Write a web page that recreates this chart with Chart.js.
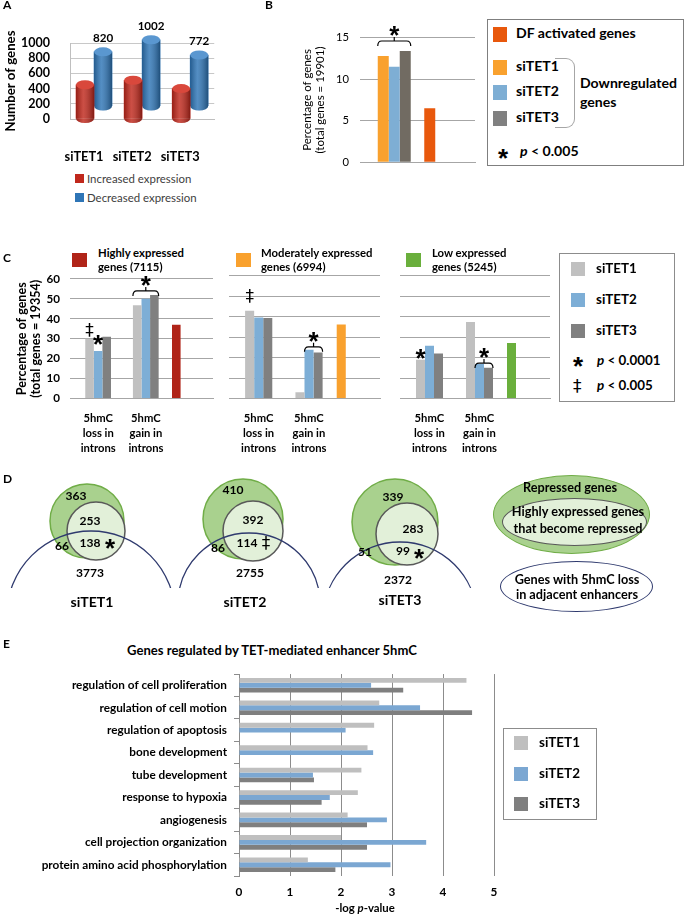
<!DOCTYPE html>
<html>
<head>
<meta charset="utf-8">
<script src="https://cdn.jsdelivr.net/npm/chart.js@4.4.1/dist/chart.umd.min.js"></script>
<style>
html,body{margin:0;padding:0;background:#fff}
body{position:relative;width:685px;height:916px;overflow:hidden;font-family:Lato,"Liberation Sans",sans-serif;color:#000}
.c{position:absolute}
.c canvas{display:block}
.t{position:absolute;white-space:nowrap;font-weight:700;line-height:1.2}
.sq{position:absolute}
.box{position:absolute;border:1px solid #8c8c8c;box-sizing:border-box}
.ell{position:absolute;border-radius:50%;box-sizing:border-box}
.star{position:absolute;font:bold 26px "Liberation Sans";line-height:29px}
.dag{position:absolute;font:17px "DejaVu Sans";line-height:20px}
</style>
</head>
<body>
<!-- A -->
<div class="c" style="left:0;top:0;width:235px;height:170px"><canvas id="ca"></canvas></div>
<div class="sq" style="left:75px;top:174px;width:9px;height:9px;background:#C0281C"></div>
<div class="sq" style="left:75px;top:193px;width:9px;height:9px;background:#2E75B6"></div>

<!-- B -->
<div class="c" style="left:296px;top:20px;width:189px;height:160px"><canvas id="cb"></canvas></div>
<div class="box" style="left:487px;top:19px;width:197px;height:147px;border-color:#7f7f7f"></div>
<div class="sq" style="left:493px;top:27px;width:14px;height:15px;background:#E8580C"></div>
<div class="sq" style="left:493px;top:60px;width:14px;height:15px;background:#F9A12E"></div>
<div class="sq" style="left:493px;top:85px;width:14px;height:15px;background:#7EAED4"></div>
<div class="sq" style="left:493px;top:111px;width:14px;height:15px;background:#808080"></div>
<div style="position:absolute;left:555px;top:58px;width:20px;height:70px;border:1.5px solid #a6a6a6;border-left:none;border-radius:0 9px 9px 0;box-sizing:border-box"></div>
<div class="star" style="left:498px;top:144px">*</div>

<!-- C -->
<div class="sq" style="left:72px;top:253px;width:15px;height:14px;background:#B02418"></div>
<div class="sq" style="left:236px;top:253px;width:15px;height:14px;background:#F9A12E"></div>
<div class="sq" style="left:406px;top:253px;width:15px;height:14px;background:#6AAF3C"></div>
<div class="c" style="left:0;top:262px;width:216px;height:193px"><canvas id="cc1"></canvas></div>
<div class="c" style="left:229px;top:262px;width:154px;height:193px"><canvas id="cc2"></canvas></div>
<div class="c" style="left:400px;top:262px;width:153px;height:193px"><canvas id="cc3"></canvas></div>
<div class="box" style="left:559px;top:253px;width:116px;height:149px"></div>
<div class="sq" style="left:571px;top:262px;width:14px;height:14px;background:#C0C0C0"></div>
<div class="sq" style="left:571px;top:293px;width:14px;height:14px;background:#7DAED6"></div>
<div class="sq" style="left:571px;top:324px;width:14px;height:14px;background:#808080"></div>
<div class="star" style="left:573px;top:352px">*</div>
<div class="dag" style="left:573px;top:376px">‡</div>

<!-- D -->
<div class="c" style="left:0;top:460px;width:685px;height:160px"><canvas id="cd"></canvas></div>
<div class="ell" style="left:493px;top:475px;width:157px;height:79px;background:#A9D18E;border:1.5px solid #70AD47"></div>
<div class="ell" style="left:502px;top:498px;width:145px;height:48px;background:#E2F0D9;border:1.5px solid #595959"></div>
<div class="ell" style="left:500px;top:561px;width:153px;height:51px;background:#fff;border:1.5px solid #2F3A6E"></div>

<!-- E -->
<div class="c" style="left:0;top:660px;width:524px;height:256px"><canvas id="ce"></canvas></div>
<div class="box" style="left:503px;top:728px;width:94px;height:92px"></div>
<div class="sq" style="left:514px;top:736px;width:14px;height:14px;background:#BFBFBF"></div>
<div class="sq" style="left:514px;top:767px;width:14px;height:14px;background:#7BA7D2"></div>
<div class="sq" style="left:514px;top:797px;width:14px;height:14px;background:#7F7F7F"></div>

<script>
// ---------- DATA ----------
// A: number of genes
const aCategories = ['siTET1', 'siTET2', 'siTET3'];
const aIncreased = [450, 510, 400];
const aDecreased = [820, 1002, 772];

// B: percentage of genes (total genes = 19901)
const bCategories = ['Downregulated genes', 'DF activated genes'];
const bDFActivated = [null, 6.5];
const bSiTET1 = [12.8, null];
const bSiTET2 = [11.5, null];
const bSiTET3 = [13.4, null];

// C: percentage of genes (total genes = 19354); index = highly, moderately, low expressed
const cGroupNames = ['Highly expressed', 'Moderately expressed', 'Low expressed'];
const cGroupSizes = [7115, 6994, 5245];
const cCategories = [['5hmC', 'loss in', 'introns'], ['5hmC', 'gain in', 'introns'], ''];
const cSiTET1Loss = [30.0, 42.9, 18.9];
const cSiTET2Loss = [23.8, 39.6, 25.8];
const cSiTET3Loss = [31.0, 39.3, 22.0];
const cSiTET1Gain = [46.8, 3.1, 37.4];
const cSiTET2Gain = [50.1, 23.8, 16.8];
const cSiTET3Gain = [52.0, 22.5, 15.0];
const cAllGenes = [37.0, 36.2, 27.1];

// D: Venn counts
const dSamples = ['siTET1', 'siTET2', 'siTET3'];
const dRepressedOnly = [363, 410, 339];
const dHighlyRepressedOnly = [253, 392, 283];
const dRepressedWithLoss = [66, 86, 51];
const dHighlyRepressedWithLoss = [138, 114, 99];
const dLossOnly = [3773, 2755, 2372];
const dSignificance = ['*', '‡', '*'];

// E: -log p-value
const eTerms = ['regulation of cell proliferation', 'regulation of cell motion', 'regulation of apoptosis',
  'bone development', 'tube development', 'response to hypoxia', 'angiogenesis',
  'cell projection organization', 'protein amino acid phosphorylation'];
const eSiTET1 = [4.46, 2.75, 2.65, 2.52, 2.40, 2.33, 2.13, 2.00, 1.35];
const eSiTET2 = [2.59, 3.55, 2.09, 2.63, 1.45, 1.78, 2.90, 3.67, 2.97];
const eSiTET3 = [3.22, 4.57, null, null, 1.47, 1.62, 2.51, 2.51, 1.89];

// ---------- TEXT HELPERS ----------
const mctx = document.createElement('canvas').getContext('2d');
function fit(text, width, weight) {
  mctx.font = (weight || 'bold') + ' 100px Lato';
  return 100 * width / mctx.measureText(text).width;
}
function groupFit(pairs, weight) {
  return pairs.reduce((s, p) => s + fit(p[0], p[1], weight), 0) / pairs.length;
}
function T(html, x, cy, size, o) {
  o = o || {};
  const d = document.createElement('div');
  d.className = 't';
  d.innerHTML = html;
  d.style.fontWeight = o.weight || 700;
  if (o.color) d.style.color = o.color;
  d.style.fontSize = size + 'px';
  document.body.appendChild(d);
  const r = d.getBoundingClientRect();
  d.style.left = (o.center ? x - r.width / 2 : x) + 'px';
  d.style.top = (cy - r.height / 2 - 0.05 * size) + 'px';
}
// panel letters
T('A', 3, 5.5, 12);
T('B', 265, 6, 12);
T('C', 3, 258.5, 12);
T('D', 3, 480, 12);
T('E', 3, 645, 12);
// A legend
const aLegSize = groupFit([['Increased expression', 105], ['Decreased expression', 109]], 'normal');
T('Increased expression', 87, 179, aLegSize, { weight: 400, color: '#404040' });
T('Decreased expression', 87, 198, aLegSize, { weight: 400, color: '#404040' });
// B legend
const bLegSize = groupFit([['DF activated genes', 121], ['Downregulated', 100], ['siTET1', 42], ['p < 0.005', 58]]);
T('DF activated genes', 516, 34, bLegSize);
T('siTET1', 516, 67, bLegSize);
T('siTET2', 516, 92, bLegSize);
T('siTET3', 516, 118, bLegSize);
T('Downregulated', 580, 84, bLegSize);
T('genes', 580, 103, bLegSize);
T('<i>p</i> &lt; 0.005', 520, 152, bLegSize);
// C headers
const cHeadSize = groupFit([['Highly expressed', 87], ['Moderately expressed', 116], ['Low expressed', 75], ['genes (7115)', 61], ['genes (5245)', 65]]);
const cHeadX = [98, 261, 432];
cGroupNames.forEach((n, g) => {
  T(n, cHeadX[g], 253, cHeadSize);
  T('genes (' + cGroupSizes[g] + ')', cHeadX[g], 267, cHeadSize);
});
// C legend
const cLegSize = groupFit([['siTET1', 40], ['p < 0.0001', 65]]);
T('siTET1', 596, 269, cLegSize);
T('siTET2', 596, 300, cLegSize);
T('siTET3', 596, 331, cLegSize);
T('<i>p</i> &lt; 0.0001', 597, 361, cLegSize);
T('<i>p</i> &lt; 0.005', 597, 386, cLegSize);
// D legend
const dLegSize = groupFit([['Repressed genes', 82], ['Highly expressed genes', 135], ['that become repressed', 132], ['Genes with 5hmC loss', 128], ['in adjacent enhancers', 130]]);
T('Repressed genes', 570, 488, dLegSize, { center: true });
T('Highly expressed genes', 578, 512, dLegSize, { center: true });
T('that become repressed', 578, 529, dLegSize, { center: true });
T('Genes with 5hmC loss', 577, 580, dLegSize, { center: true });
T('in adjacent enhancers', 577, 595, dLegSize, { center: true });
// E
T('Genes regulated by TET-mediated enhancer 5hmC', 272, 651, fit('Genes regulated by TET-mediated enhancer 5hmC', 291), { center: true });
T('-log <i>p</i>-value', 365, 908, fit('-log p-value', 60), { center: true });
const eLegSize = fit('siTET1', 41);
T('siTET1', 539, 743, eLegSize);
T('siTET2', 539, 774, eLegSize);
T('siTET3', 539, 804, eLegSize);

// ---------- CHART SETUP ----------
Chart.defaults.font.family = 'Lato';
Chart.defaults.color = '#000';
Chart.defaults.animation = false;
Chart.defaults.plugins.legend.display = false;
Chart.defaults.plugins.tooltip.enabled = false;
Chart.defaults.responsive = true;
Chart.defaults.maintainAspectRatio = false;
Chart.defaults.devicePixelRatio = 1;
const plainTick = v => String(v);

function drawSymbol(ctx, sym, cx, cy) {
  ctx.save();
  ctx.fillStyle = '#000';
  ctx.textAlign = 'center';
  ctx.textBaseline = 'alphabetic';
  if (sym === '*') { ctx.font = 'bold 26px "Liberation Sans"'; ctx.fillText('*', cx, cy + 15); }
  else { ctx.font = '17px "DejaVu Sans"'; ctx.fillText(sym, cx, cy + 6); }
  ctx.restore();
}

const sigPlugin = {
  id: 'sigMarks',
  afterDatasetsDraw(chart, args, opts) {
    const ctx = chart.ctx;
    (opts.items || []).forEach(it => {
      if (it.type === 'mark') {
        const el = chart.getDatasetMeta(it.ds).data[it.index];
        drawSymbol(ctx, it.text, el.x, el.y - it.gap);
      } else {
        const a = chart.getDatasetMeta(it.from).data[it.index];
        const b = chart.getDatasetMeta(it.to).data[it.index];
        let top = Infinity;
        for (let d = it.from; d <= it.to; d++) top = Math.min(top, chart.getDatasetMeta(d).data[it.index].y);
        const l = a.x - a.width / 2, r = b.x + b.width / 2, y = top - it.gap, m = (l + r) / 2;
        ctx.save();
        ctx.strokeStyle = '#000'; ctx.lineWidth = 1.2;
        ctx.beginPath();
        ctx.moveTo(l, y + 5); ctx.quadraticCurveTo(l, y, l + 4, y);
        ctx.lineTo(r - 4, y); ctx.quadraticCurveTo(r, y, r, y + 5);
        ctx.moveTo(m, y); ctx.lineTo(m, y - 4);
        ctx.stroke();
        ctx.restore();
        drawSymbol(ctx, it.text, m, y - 12);
      }
    });
  }
};

const aValueFont = fit('1002', 27);
const cylinderPlugin = {
  id: 'cylinders',
  beforeDatasetDraw(chart, args, opts) {
    const s = opts.shift[args.index];
    chart.ctx.save();
    chart.ctx.translate(s[0], s[1]);
  },
  afterDatasetDraw(chart, args, opts) {
    const ctx = chart.ctx;
    const ds = chart.data.datasets[args.index];
    args.meta.data.forEach((el, i) => {
      const x = el.x, top = el.y, base = el.base, rx = el.width / 2, ry = 4.5;
      ctx.fillStyle = ds.backgroundColor;
      ctx.beginPath(); ctx.ellipse(x, base, rx, ry, 0, 0, Math.PI); ctx.fill();
      const g = ctx.createLinearGradient(x - rx, 0, x + rx, 0);
      g.addColorStop(0, 'rgba(0,0,0,0.22)');
      g.addColorStop(0.4, 'rgba(255,255,255,0.18)');
      g.addColorStop(1, 'rgba(0,0,0,0.32)');
      ctx.fillStyle = g;
      ctx.beginPath();
      ctx.moveTo(x - rx, top); ctx.lineTo(x - rx, base);
      ctx.ellipse(x, base, rx, ry, 0, Math.PI, 0, true);
      ctx.lineTo(x + rx, top); ctx.closePath(); ctx.fill();
      ctx.fillStyle = opts.capColor[args.index];
      ctx.beginPath(); ctx.ellipse(x, top, rx, ry, 0, 0, Math.PI * 2); ctx.fill();
      if (opts.valueLabels[args.index]) {
        ctx.fillStyle = '#000'; ctx.font = 'bold ' + aValueFont + 'px Lato'; ctx.textAlign = 'center'; ctx.textBaseline = 'middle';
        ctx.fillText(String(ds.data[i]), x, top - 14);
      }
    });
    ctx.restore();
  }
};

// ---------- A ----------
new Chart(document.getElementById('ca'), {
  type: 'bar',
  data: {
    labels: aCategories,
    datasets: [
      { label: 'Increased expression', data: aIncreased, backgroundColor: '#C0281C', borderWidth: 0, barThickness: 18, yAxisID: 'y' },
      { label: 'Decreased expression', data: aDecreased, backgroundColor: '#2E75B6', borderWidth: 0, barThickness: 18, yAxisID: 'yBack' }
    ]
  },
  options: {
    layout: { padding: { top: 43, right: 20, left: 0, bottom: 0 } },
    scales: {
      x: { grid: { display: false }, border: { display: true, color: '#bfbfbf' },
           ticks: { font: { size: fit('siTET1', 39), weight: 'bold' }, padding: 22, labelOffset: -10, maxRotation: 0, autoSkip: false },
           afterFit: s => { s.height = 51; } },
      y: { min: 0, max: 1000, ticks: { stepSize: 200, font: { size: fit('1000', 29), weight: 'bold' }, padding: 20, autoSkip: false, callback: plainTick },
           grid: { color: '#c8c8c8', drawTicks: false }, border: { display: true, color: '#bfbfbf' },
           title: { display: true, text: 'Number of genes', font: { size: fit('Number of genes', 101), weight: 'bold' }, padding: { top: 3, bottom: 0 } },
           afterFit: s => { s.width = 70; } },
      yBack: { display: false, min: 0, max: 1150 }
    },
    plugins: { cylinders: { shift: [[0, 0], [0, -13]], valueLabels: [false, true], capColor: ['#D9483C', '#5A97D0'] } }
  },
  plugins: [cylinderPlugin]
});

// ---------- B ----------
const bTitleSize = fit('(total genes = 19901)', 107, 'normal');
new Chart(document.getElementById('cb'), {
  type: 'bar',
  data: {
    labels: bCategories,
    datasets: [
      { label: 'DF activated genes', data: bDFActivated, backgroundColor: '#E8580C' },
      { label: 'siTET1', data: bSiTET1, backgroundColor: '#F9A12E' },
      { label: 'siTET2', data: bSiTET2, backgroundColor: '#7EAED4' },
      { label: 'siTET3', data: bSiTET3, backgroundColor: '#716B62' }
    ]
  },
  options: {
    datasets: { bar: { categoryPercentage: 0.765, barPercentage: 1 } },
    layout: { padding: { top: 10.7, right: 10, left: 0, bottom: 0 } },
    scales: {
      x: { grid: { display: false }, ticks: { display: false }, border: { color: '#a6a6a6' }, afterFit: s => { s.height = 17.7; } },
      y: { min: 0, max: 15, ticks: { stepSize: 5, font: { size: fit('15', 13, 'normal') }, padding: 11, callback: plainTick },
           grid: { color: '#a6a6a6', drawTicks: false }, border: { display: false },
           title: { display: true, text: ['Percentage of genes', '(total genes = 19901)'], font: { size: bTitleSize, lineHeight: 13 / bTitleSize }, padding: { top: 4.5, bottom: 0 } },
           afterFit: s => { s.width = 64; } }
    },
    plugins: { sigMarks: { items: [{ type: 'bracket', from: 1, to: 3, index: 0, gap: 10, text: '*' }] } }
  },
  plugins: [sigPlugin]
});

// ---------- C ----------
const cColors = ['#B02418', '#F9A12E', '#6AAF3C'];
const cMarks = [
  [{ type: 'mark', ds: 1, index: 0, gap: 9, text: '‡' }, { type: 'mark', ds: 2, index: 0, gap: 13, text: '*' },
   { type: 'bracket', from: 1, to: 3, index: 1, gap: 4, text: '*' }],
  [{ type: 'mark', ds: 1, index: 0, gap: 15, text: '‡' }, { type: 'bracket', from: 2, to: 3, index: 1, gap: 3, text: '*' }],
  [{ type: 'mark', ds: 1, index: 0, gap: 8, text: '*' }, { type: 'bracket', from: 2, to: 3, index: 1, gap: 1, text: '*' }]
];
const cXSize = groupFit([['introns', 37], ['loss in', 30], ['5hmC', 29]]);
const cYSize = fit('60', 13.5);
const cTitleSize = groupFit([['(total genes = 19354)', 118], ['Percentage of genes', 113]]);
['cc1', 'cc2', 'cc3'].forEach((id, g) => {
  const showY = g === 0;
  new Chart(document.getElementById(id), {
    type: 'bar',
    data: {
      labels: cCategories,
      datasets: [
        { label: cGroupNames[g] + ' genes', data: [null, null, cAllGenes[g]], backgroundColor: cColors[g] },
        { label: 'siTET1', data: [cSiTET1Loss[g], cSiTET1Gain[g], null], backgroundColor: '#C0C0C0' },
        { label: 'siTET2', data: [cSiTET2Loss[g], cSiTET2Gain[g], null], backgroundColor: '#7DAED6' },
        { label: 'siTET3', data: [cSiTET3Loss[g], cSiTET3Gain[g], null], backgroundColor: '#808080' }
      ]
    },
    options: {
      datasets: { bar: { categoryPercentage: 0.72, barPercentage: 1 } },
      layout: { padding: { top: 13.7, right: 3, left: 0, bottom: 0 } },
      scales: {
        x: { grid: { display: false }, border: { color: '#a6a6a6' },
             ticks: { font: { size: cXSize, weight: 'bold', lineHeight: 15 / cXSize }, padding: 4, labelOffset: 4.4, maxRotation: 0, minRotation: 0, autoSkip: false },
             afterFit: s => { s.height = 56.5; } },
        y: { min: 0, max: 60,
             ticks: showY ? { stepSize: 10, font: { size: cYSize, weight: 'bold' }, padding: 10, autoSkip: false, callback: plainTick } : { stepSize: 10, display: false },
             grid: { color: '#a6a6a6', drawTicks: false }, border: { display: false },
             title: showY ? { display: true, text: ['Percentage of genes', '(total genes = 19354)'], font: { size: cTitleSize, weight: 'bold', lineHeight: 14 / cTitleSize }, padding: { top: 15, bottom: 0 } } : { display: false },
             afterFit: s => { s.width = showY ? 70 : 0; } }
      },
      plugins: { sigMarks: { items: cMarks[g] } }
    },
    plugins: [sigPlugin]
  });
});

// ---------- D ----------
const vennLayout = [
  { outer: [87, 521, 37], inner: [96, 531, 29], loss: [91, 615, 84],
    pos: { ro: [76, 496], hr: [90, 521], rl: [62, 546], hrl: [90, 543], sig: [110, 542], lo: [90, 573], name: [92, 602] } },
  { outer: [243, 519, 40], inner: [253, 531, 30], loss: [249, 604, 71],
    pos: { ro: [233, 490], hr: [253, 520], rl: [218, 548], hrl: [247, 543], sig: [266, 543], lo: [250, 573], name: [245, 602] } },
  { outer: [395, 522, 43], inner: [407, 534, 31], loss: [400, 619, 77],
    pos: { ro: [393, 497], hr: [413, 529], rl: [365, 552], hrl: [403, 551], sig: [419, 552], lo: [398, 580], name: [400, 600] } }
];
const toBubble = k => vennLayout.map(v => ({ x: v[k][0], y: v[k][1], r: v[k][2] }));
const dCountSize = groupFit([['3773', 28], ['363', 21]]);
const dNameSize = fit('siTET1', 43);
const vennText = {
  id: 'vennText',
  afterDatasetsDraw(chart) {
    const ctx = chart.ctx, xs = chart.scales.x, ys = chart.scales.y;
    const put = (txt, p, size) => {
      ctx.font = 'bold ' + size + 'px Lato';
      ctx.fillText(txt, xs.getPixelForValue(p[0]), ys.getPixelForValue(p[1]));
    };
    ctx.save();
    ctx.fillStyle = '#000'; ctx.textAlign = 'center'; ctx.textBaseline = 'middle';
    vennLayout.forEach((v, i) => {
      put(String(dRepressedOnly[i]), v.pos.ro, dCountSize);
      put(String(dHighlyRepressedOnly[i]), v.pos.hr, dCountSize);
      put(String(dRepressedWithLoss[i]), v.pos.rl, dCountSize);
      put(String(dHighlyRepressedWithLoss[i]), v.pos.hrl, dCountSize);
      put(String(dLossOnly[i]), v.pos.lo, dCountSize);
      put(dSamples[i], v.pos.name, dNameSize);
    });
    ctx.restore();
    vennLayout.forEach((v, i) => drawSymbol(ctx, dSignificance[i], xs.getPixelForValue(v.pos.sig[0]), ys.getPixelForValue(v.pos.sig[1])));
  }
};
new Chart(document.getElementById('cd'), {
  type: 'bubble',
  data: {
    datasets: [
      { label: 'Genes with 5hmC loss in adjacent enhancers', data: toBubble('loss'), backgroundColor: 'rgba(0,0,0,0)', borderColor: '#2F3A6E', borderWidth: 1.3, clip: 0, order: 1 },
      { label: 'Highly expressed genes that become repressed', data: toBubble('inner'), backgroundColor: '#E2F0D9', borderColor: '#595959', borderWidth: 1.5, order: 2 },
      { label: 'Repressed genes', data: toBubble('outer'), backgroundColor: '#A9D18E', borderColor: '#70AD47', borderWidth: 1.5, order: 3 }
    ]
  },
  options: {
    layout: { autoPadding: false, padding: { top: 0, left: 0, right: 0, bottom: 32 } },
    scales: {
      x: { type: 'linear', display: false, min: 0, max: 685 },
      y: { type: 'linear', display: false, min: 460, max: 588, reverse: true }
    }
  },
  plugins: [vennText]
});

// ---------- E ----------
const eLabelSize = groupFit([['protein amino acid phosphorylation', 186], ['regulation of cell proliferation', 155]]);
new Chart(document.getElementById('ce'), {
  type: 'bar',
  data: {
    labels: eTerms,
    datasets: [
      { label: 'siTET1', data: eSiTET1, backgroundColor: '#BFBFBF' },
      { label: 'siTET2', data: eSiTET2, backgroundColor: '#7BA7D2' },
      { label: 'siTET3', data: eSiTET3, backgroundColor: '#7F7F7F' }
    ]
  },
  options: {
    indexAxis: 'y',
    datasets: { bar: { categoryPercentage: 0.65, barPercentage: 1 } },
    layout: { padding: { top: 7, right: 30, left: 0, bottom: 0 } },
    scales: {
      x: { min: 0, max: 5, ticks: { stepSize: 1, font: { size: eLabelSize, weight: 'bold' }, padding: 9, callback: plainTick },
           grid: { color: '#8c8c8c', drawTicks: false }, border: { display: false },
           afterFit: s => { s.height = 40; } },
      y: { ticks: { font: { size: eLabelSize, weight: 'bold' }, padding: 7, autoSkip: false },
           grid: { drawOnChartArea: false, drawTicks: true, tickLength: 5, color: '#8c8c8c' },
           border: { color: '#8c8c8c' },
           afterFit: s => { s.width = 239; } }
    }
  }
});
</script>
</body>
</html>
